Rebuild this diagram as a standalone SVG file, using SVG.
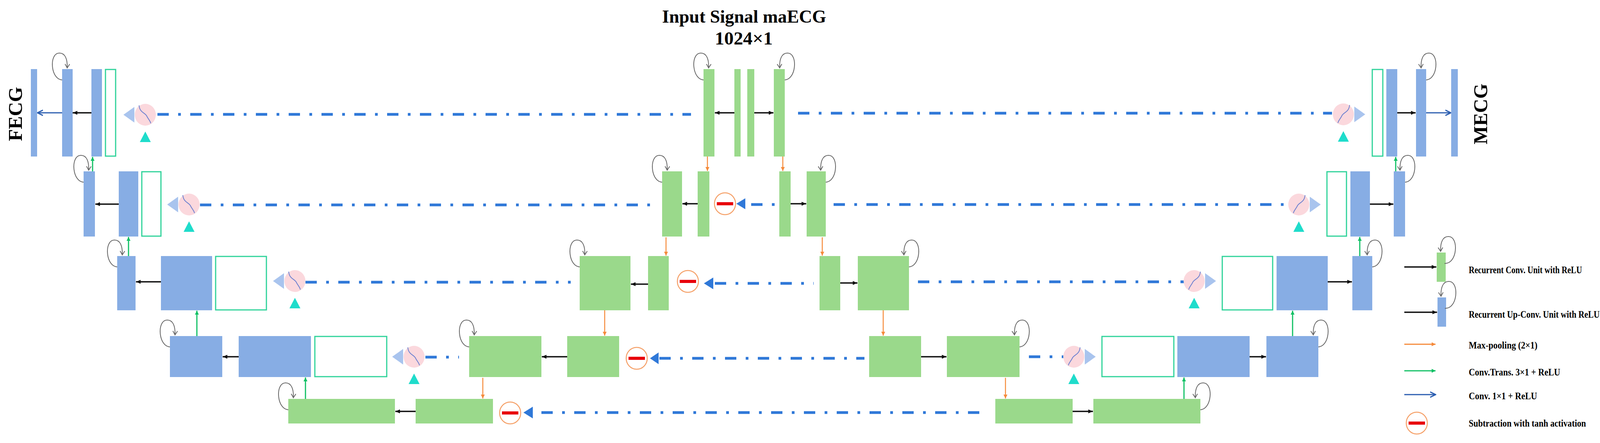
<svg xmlns="http://www.w3.org/2000/svg" xmlns:xlink="http://www.w3.org/1999/xlink" width="4284" height="1135" viewBox="0 0 4284 1135">
<style>
.b{fill:#87ade4}
.g{fill:#9ad98b}
.o{fill:none;stroke:#2fd39a;stroke-width:3}
.dash{fill:none;stroke:#2f78d8;stroke-width:7;stroke-dasharray:29 24 7 24}
.k{stroke:#111;stroke-width:3.5;fill:none;marker-end:url(#mk)}
.bl{stroke:#2a5db0;stroke-width:3;fill:none;marker-end:url(#mb)}
.or{stroke:#f58a3a;stroke-width:2.5;fill:none;marker-end:url(#mo)}
.gr{stroke:#10c064;stroke-width:3;fill:none;marker-end:url(#mg)}
.lp{stroke:#666;stroke-width:2;fill:none;marker-end:url(#ml)}
.t{font-family:"Liberation Serif",serif;font-weight:bold;fill:#000}
.sub{fill:#fff;stroke:#f5a068;stroke-width:2.5}
.red{fill:#e8000b}
.ah{fill:#2f78d8}
</style>
<defs>
<marker id="mk" markerUnits="userSpaceOnUse" markerWidth="14" markerHeight="12" refX="12" refY="6" orient="auto"><path d="M0,1 L12,6 L0,11 Z" fill="#111"/></marker>
<marker id="mb" markerUnits="userSpaceOnUse" markerWidth="16" markerHeight="16" refX="14" refY="8" orient="auto"><path d="M0,1 L14,8 L0,15" fill="none" stroke="#2a5db0" stroke-width="3"/></marker>
<marker id="mo" markerUnits="userSpaceOnUse" markerWidth="12" markerHeight="12" refX="10" refY="6" orient="auto"><path d="M0,1 L10,6 L0,11 Z" fill="#f58a3a"/></marker>
<marker id="mg" markerUnits="userSpaceOnUse" markerWidth="12" markerHeight="12" refX="10" refY="6" orient="auto"><path d="M0,1 L10,6 L0,11 Z" fill="#10c064"/></marker>
<marker id="ml" markerUnits="userSpaceOnUse" markerWidth="14" markerHeight="14" refX="10" refY="7" orient="auto"><path d="M0,1 L10,7 L0,13" fill="none" stroke="#666" stroke-width="2"/></marker>
<path id="loop" class="lp" d="M3,28 C-30,30 -34,-40 -8,-41 C8,-42 14,-25 13,-3"/>
<g id="attL">
<path d="M-28,-20 L-56,0 L-28,20 Z" fill="#a9c4ee"/>
<ellipse cx="0" cy="0" rx="27" ry="28" fill="#fbd8dd"/>
<path d="M-16,-24 C-14,-4 0,-6 4,4 C8,12 12,14 14,22" fill="none" stroke="#6a7fd0" stroke-width="2"/>
<path d="M0,43 L14,70 L-14,70 Z" fill="#1fdccb"/>
</g>
<g id="attR">
<path d="M28,-20 L56,0 L28,20 Z" fill="#a9c4ee"/>
<ellipse cx="0" cy="0" rx="27" ry="28" fill="#fbd8dd"/>
<path d="M16,-24 C14,-4 0,-6 -4,4 C-8,12 -12,14 -14,22" fill="none" stroke="#6a7fd0" stroke-width="2"/>
<path d="M0,43 L14,70 L-14,70 Z" fill="#1fdccb"/>
</g>
<g id="subtr">
<ellipse cx="0" cy="0" rx="27" ry="28" class="sub"/>
<rect x="-21" y="-4" width="42" height="8" class="red"/>
</g>
</defs>
<rect width="4284" height="1135" fill="#fff"/>

<g id="titles">
<text class="t" x="1695" y="58" font-size="46" textLength="420" lengthAdjust="spacingAndGlyphs">Input Signal maECG</text>
<text class="t" x="1830" y="114" font-size="46" textLength="148" lengthAdjust="spacingAndGlyphs">1024×1</text>
<text class="t" font-size="50" text-anchor="middle" transform="translate(56,292) rotate(-90)">FECG</text>
<text class="t" font-size="50" text-anchor="middle" transform="translate(3807,292) rotate(-90)">MECG</text>
</g>

<g id="connectors">
<path class="dash" d="M403,293 H1769"/>
<path class="dash" d="M2043,290 H3410"/>
<path class="dash" d="M512,525 H1677"/>
<path class="dash" d="M1923,524 H1985"/>
<path class="dash" d="M2134,524 H3298"/>
<path class="dash" d="M782,723 H1461"/>
<path class="dash" d="M1830,726 H2083"/>
<path class="dash" d="M2350,722 H3031"/>
<path class="dash" d="M1089,915 H1175"/>
<path class="dash" d="M1688,918 H2213"/>
<path class="dash" d="M2634,914 H2723"/>
<path class="dash" d="M1386,1057 H2531"/>
<path class="ah" d="M1885,522 L1908,508 L1908,536 Z"/>
<path class="ah" d="M1802,726 L1826,711 L1826,741 Z"/>
<path class="ah" d="M1664,918 L1686,903 L1686,933 Z"/>
<path class="ah" d="M1340,1057 L1364,1042 L1364,1072 Z"/>

<path class="k" d="M234,289 H186"/>
<path class="bl" d="M159,289 H96"/>
<path class="k" d="M1880,289 H1830"/>
<path class="k" d="M1931,289 H1980"/>
<path class="k" d="M3577,289 H3624"/>
<path class="bl" d="M3651,289 H3714"/>
<path class="k" d="M304,523 H244"/>
<path class="k" d="M1786,522 H1747"/>
<path class="k" d="M2024,522 H2064"/>
<path class="k" d="M3507,523 H3567"/>
<path class="k" d="M412,722 H348"/>
<path class="k" d="M1659,728 H1615"/>
<path class="k" d="M2151,725 H2195"/>
<path class="k" d="M3399,722 H3461"/>
<path class="k" d="M611,914 H570"/>
<path class="k" d="M1452,914 H1387"/>
<path class="k" d="M2358,914 H2423"/>
<path class="k" d="M3199,914 H3241"/>
<path class="k" d="M1064,1054 H1012"/>
<path class="k" d="M2746,1054 H2798"/>

<path class="or" d="M1811,401 V438"/>
<path class="or" d="M2004,401 V438"/>
<path class="or" d="M1705,608 V655"/>
<path class="or" d="M2105,608 V655"/>
<path class="or" d="M1548,795 V860"/>
<path class="or" d="M2261,795 V860"/>
<path class="or" d="M1236,968 V1021"/>
<path class="or" d="M2574,968 V1021"/>

<path class="gr" d="M237,439 V402"/>
<path class="gr" d="M329,656 V607"/>
<path class="gr" d="M504,861 V796"/>
<path class="gr" d="M782,1022 V967"/>
<path class="gr" d="M3031,1022 V967"/>
<path class="gr" d="M3309,861 V796"/>
<path class="gr" d="M3481,656 V607"/>
<path class="gr" d="M3573,439 V402"/>

<use xlink:href="#loop" href="#loop" transform="translate(159,177)"/>
<use xlink:href="#loop" href="#loop" transform="translate(1801,177)"/>
<use xlink:href="#loop" href="#loop" transform="translate(2009,177) scale(-1,1)"/>
<use xlink:href="#loop" href="#loop" transform="translate(3651,177) scale(-1,1)"/>
<use xlink:href="#loop" href="#loop" transform="translate(214,439)"/>
<use xlink:href="#loop" href="#loop" transform="translate(1695,439)"/>
<use xlink:href="#loop" href="#loop" transform="translate(2114,439) scale(-1,1)"/>
<use xlink:href="#loop" href="#loop" transform="translate(3597,439) scale(-1,1)"/>
<use xlink:href="#loop" href="#loop" transform="translate(300,656)"/>
<use xlink:href="#loop" href="#loop" transform="translate(1484,656)"/>
<use xlink:href="#loop" href="#loop" transform="translate(2327,656) scale(-1,1)"/>
<use xlink:href="#loop" href="#loop" transform="translate(3513,656) scale(-1,1)"/>
<use xlink:href="#loop" href="#loop" transform="translate(435,861)"/>
<use xlink:href="#loop" href="#loop" transform="translate(1201,861)"/>
<use xlink:href="#loop" href="#loop" transform="translate(2610,861) scale(-1,1)"/>
<use xlink:href="#loop" href="#loop" transform="translate(3375,861) scale(-1,1)"/>
<use xlink:href="#loop" href="#loop" transform="translate(738,1022)"/>
<use xlink:href="#loop" href="#loop" transform="translate(3073,1022) scale(-1,1)"/>
</g>

<g id="row0">
<rect class="b" x="79" y="177" width="16" height="224"/>
<rect class="b" x="159" y="177" width="27" height="224"/>
<rect class="b" x="234" y="177" width="27" height="224"/>
<rect class="o" x="270" y="178" width="26" height="222"/>
<rect class="g" x="1801" y="177" width="28" height="224"/>
<rect class="g" x="1880" y="177" width="16" height="224"/>
<rect class="g" x="1913" y="177" width="18" height="224"/>
<rect class="g" x="1981" y="177" width="28" height="224"/>
<rect class="o" x="3513" y="178" width="27" height="222"/>
<rect class="b" x="3549" y="177" width="28" height="224"/>
<rect class="b" x="3625" y="177" width="26" height="224"/>
<rect class="b" x="3715" y="177" width="17" height="224"/>
</g>
<g id="row1">
<rect class="b" x="214" y="439" width="29" height="167"/>
<rect class="b" x="304" y="439" width="50" height="167"/>
<rect class="o" x="363" y="440" width="49" height="165"/>
<rect class="g" x="1695" y="439" width="51" height="167"/>
<rect class="g" x="1786" y="439" width="30" height="167"/>
<rect class="g" x="1995" y="439" width="29" height="167"/>
<rect class="g" x="2065" y="439" width="49" height="167"/>
<rect class="o" x="3397" y="440" width="50" height="165"/>
<rect class="b" x="3457" y="439" width="50" height="167"/>
<rect class="b" x="3568" y="439" width="29" height="167"/>
</g>
<g id="row2">
<rect class="b" x="300" y="656" width="47" height="139"/>
<rect class="b" x="412" y="656" width="131" height="139"/>
<rect class="o" x="552" y="657" width="130" height="137"/>
<rect class="g" x="1484" y="656" width="130" height="139"/>
<rect class="g" x="1659" y="656" width="53" height="139"/>
<rect class="g" x="2098" y="656" width="53" height="139"/>
<rect class="g" x="2196" y="656" width="131" height="139"/>
<rect class="o" x="3129" y="657" width="129" height="137"/>
<rect class="b" x="3268" y="656" width="131" height="139"/>
<rect class="b" x="3462" y="656" width="51" height="139"/>
</g>
<g id="row3">
<rect class="b" x="435" y="861" width="134" height="105"/>
<rect class="b" x="611" y="861" width="185" height="105"/>
<rect class="o" x="806" y="862" width="184" height="103"/>
<rect class="g" x="1201" y="861" width="185" height="105"/>
<rect class="g" x="1452" y="861" width="133" height="105"/>
<rect class="g" x="2225" y="861" width="133" height="105"/>
<rect class="g" x="2424" y="861" width="186" height="105"/>
<rect class="o" x="2821" y="862" width="184" height="103"/>
<rect class="b" x="3014" y="861" width="185" height="105"/>
<rect class="b" x="3242" y="861" width="133" height="105"/>
</g>
<g id="row4">
<rect class="g" x="738" y="1022" width="273" height="63"/>
<rect class="g" x="1064" y="1022" width="198" height="63"/>
<rect class="g" x="2548" y="1022" width="198" height="63"/>
<rect class="g" x="2799" y="1022" width="274" height="63"/>
</g>
<g id="attention">
<use xlink:href="#attL" href="#attL" x="372" y="294"/>
<use xlink:href="#attL" href="#attL" x="484" y="524"/>
<use xlink:href="#attL" href="#attL" x="755" y="720"/>
<use xlink:href="#attL" href="#attL" x="1060" y="914"/>
<use xlink:href="#attR" href="#attR" x="3439" y="293"/>
<use xlink:href="#attR" href="#attR" x="3325" y="524"/>
<use xlink:href="#attR" href="#attR" x="3057" y="720"/>
<use xlink:href="#attR" href="#attR" x="2749" y="914"/>
</g>
<g id="subtraction">
<use xlink:href="#subtr" href="#subtr" x="1856" y="522"/>
<use xlink:href="#subtr" href="#subtr" x="1761" y="721"/>
<use xlink:href="#subtr" href="#subtr" x="1630" y="918"/>
<use xlink:href="#subtr" href="#subtr" x="1306" y="1058"/>
</g>
<g id="legend">
<path class="k" d="M3595,684 H3677"/>
<rect class="g" x="3678" y="647" width="23" height="75"/>
<use xlink:href="#loop" href="#loop" transform="translate(3701,647) scale(-1,1)"/>
<text class="t" x="3760" y="700" font-size="25" textLength="290" lengthAdjust="spacingAndGlyphs">Recurrent Conv. Unit with ReLU</text>
<path class="k" d="M3595,800 H3679"/>
<rect class="b" x="3680" y="762" width="22" height="75"/>
<use xlink:href="#loop" href="#loop" transform="translate(3702,762) scale(-1,1)"/>
<text class="t" x="3760" y="814" font-size="25" textLength="335" lengthAdjust="spacingAndGlyphs">Recurrent Up-Conv. Unit with ReLU</text>
<path d="M3595,882 H3675" stroke="#f58a3a" stroke-width="3" fill="none" marker-end="url(#mo)"/>
<text class="t" x="3760" y="893" font-size="25" textLength="176" lengthAdjust="spacingAndGlyphs">Max-pooling (2×1)</text>
<path d="M3595,950 H3675" stroke="#10c064" stroke-width="3" fill="none" marker-end="url(#mg)"/>
<text class="t" x="3760" y="962" font-size="25" textLength="234" lengthAdjust="spacingAndGlyphs">Conv.Trans. 3×1 + ReLU</text>
<path class="bl" d="M3595,1011 H3675"/>
<text class="t" x="3760" y="1023" font-size="25" textLength="175" lengthAdjust="spacingAndGlyphs">Conv. 1×1 + ReLU</text>
<use xlink:href="#subtr" href="#subtr" x="3627" y="1084"/>
<text class="t" x="3760" y="1093" font-size="25" textLength="300" lengthAdjust="spacingAndGlyphs">Subtraction with tanh activation</text>
</g>
</svg>
